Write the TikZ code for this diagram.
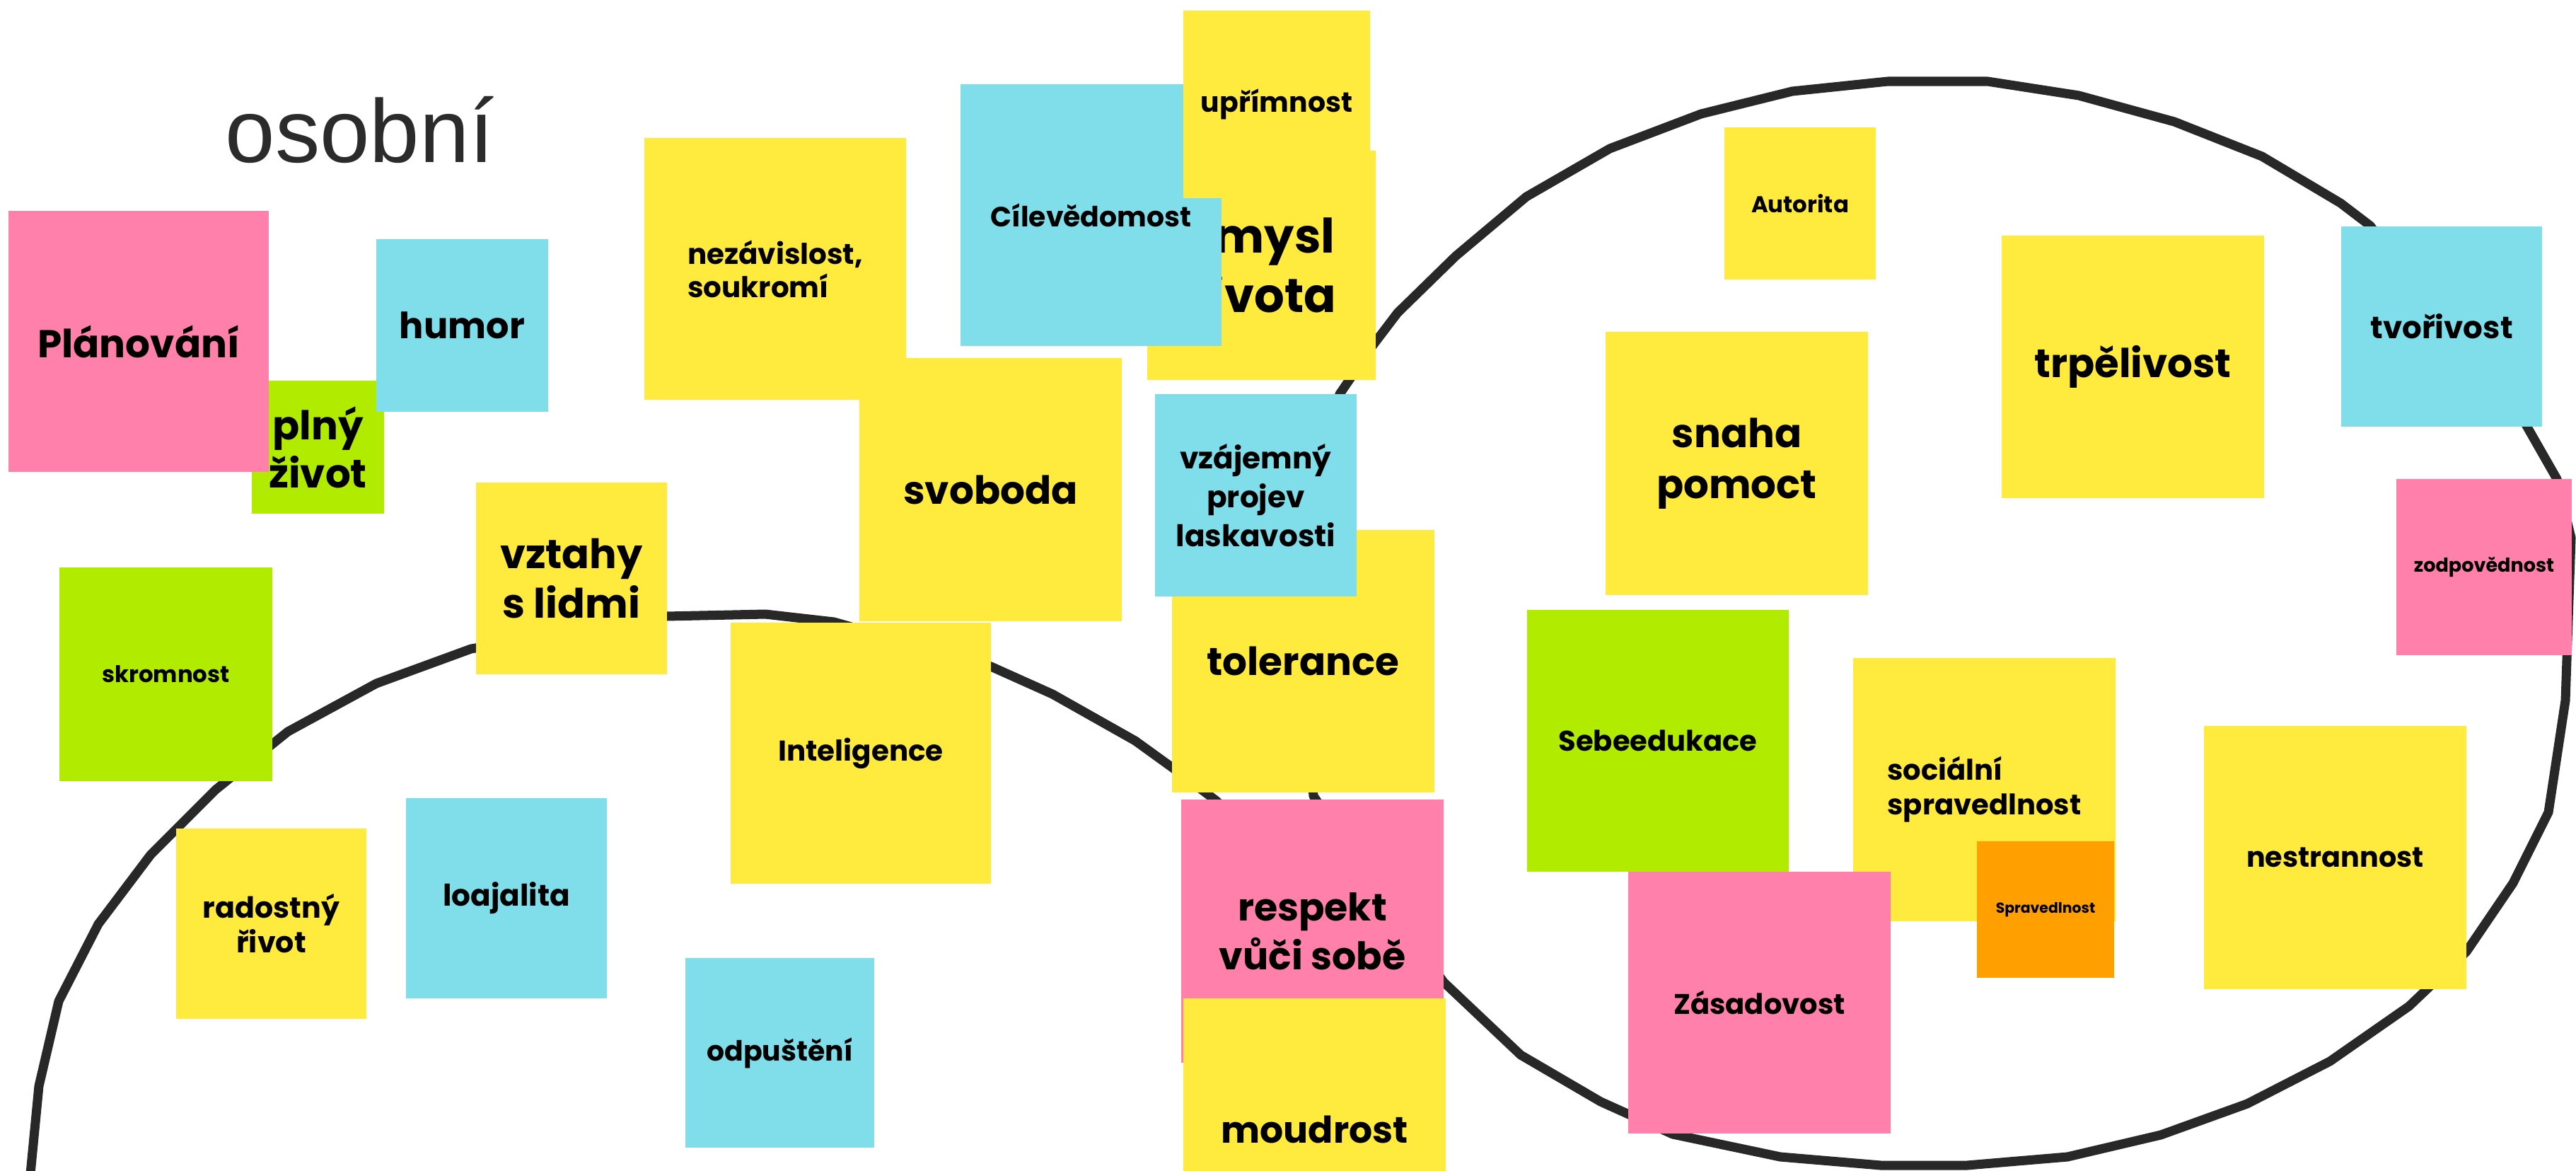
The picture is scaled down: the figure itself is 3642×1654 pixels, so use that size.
\documentclass[tikz,border=0pt]{standalone}
\usepackage{fontspec}
\setmainfont{Poppins}
\newfontfamily\titlefont{Liberation Sans}

\definecolor{noteyellow}{HTML}{FFEA3D}
\definecolor{notecyan}{HTML}{80DEEA}
\definecolor{notepink}{HTML}{FF80AB}
\definecolor{notegreen}{HTML}{B0EB00}
\definecolor{noteorange}{HTML}{FF9F00}
\definecolor{loopgray}{HTML}{282828}
\definecolor{titlegray}{HTML}{2B2B2B}

\newcommand{\nfs}[2]{\fontsize{#1}{#2}\selectfont\bfseries}

\tikzset{
  note/.style={inner sep=0pt, minimum size=#1, align=center},
  yel/.style={fill=noteyellow},
  cya/.style={fill=notecyan},
  pnk/.style={fill=notepink},
  grn/.style={fill=notegreen},
  org/.style={fill=noteorange},
  loop/.style={draw=loopgray, line width=3.7pt, line join=round, line cap=round}
}

\begin{document}
\begin{tikzpicture}[x=0.01cm, y=-0.01cm]
  \useasboundingbox (0,0) rectangle (3642,1654);
  \fill[white] (0,0) rectangle (3642,1654);
  \clip (0,0) rectangle (3642,1654);

  % the two hand drawn loops
  \draw[loop] (40,1690) -- (55,1535) -- (83,1415) -- (139,1306) -- (213,1208)
    -- (305,1116) -- (407,1034) -- (532,966) -- (666,917) -- (942,871)
    -- (1082,868) -- (1179,879) -- (1401,942) -- (1488,981) -- (1605,1047)
    -- (1659,1086) -- (1720,1132) -- (1800,1210) -- (1870,1320);
  \draw[loop] (1894,557) -- (1870,640) -- (1852,760) -- (1845,900) -- (1848,1020)
    -- (1857,1125) -- (2041,1388) -- (2150,1491) -- (2263,1557) -- (2365,1603)
    -- (2517,1635) -- (2659,1647) -- (2781,1647) -- (2923,1635) -- (3055,1604)
    -- (3177,1560) -- (3294,1500) -- (3406,1422) -- (3487,1345) -- (3553,1248)
    -- (3603,1148) -- (3627,990) -- (3635,760) -- (3615,677) -- (3571,600)
    -- (3351,319) -- (3309,287) -- (3198,221) -- (3074,172) -- (2939,135)
    -- (2810,115) -- (2669,115) -- (2534,129) -- (2405,161) -- (2276,210)
    -- (2158,278) -- (2058,362) -- (1976,442) -- (1941,488) -- cycle;

  \node[anchor=base west, inner sep=0pt, text=titlegray,
    font=\titlefont\fontsize{36}{43}\selectfont] (title) at (318,229) {osobní};

  % left group
  \node[note=1.87cm, grn, font=\nfs{16}{19.3}] (plny) at (449.5,632) {plný\\život};
  \node[note=3.68cm, pnk, font=\nfs{15.6}{19}] (plan) at (196,482.5) {Plánování};
  \node[note=2.43cm, cya, font=\nfs{14.5}{18}] (humor) at (653.5,460) {humor};
  \node[note=3.01cm, grn, font=\nfs{9.2}{12}] (skrom) at (234.5,953) {skromnost};
  \node[note=2.70cm, yel, font=\nfs{16.3}{19.9}] (vztahy) at (808,817.5) {vztahy\\s lidmi};
  \node[note=3.70cm, yel, font=\nfs{11.5}{13.4}, align=left] (nezav) at (1096,380) {nezávislost,\\soukromí};
  \node[note=3.71cm, yel, font=\nfs{15.6}{19}] (svoboda) at (1400.5,692) {svoboda};
  \node[note=3.68cm, yel, font=\nfs{11.5}{14}] (intel) at (1217,1064.5) {Inteligence};
  \node[note=2.69cm, yel, font=\nfs{11.7}{13.9}] (radost) at (383.5,1305.5) {radostný\\řivot};
  \node[note=2.83cm, cya, font=\nfs{12}{15}] (loaj) at (716,1269.5) {loajalita};
  \node[note=2.67cm, cya, font=\nfs{11.2}{14}] (odpust) at (1102.5,1488) {odpuštění};

  % middle group
  \node[note=3.23cm, yel, font=\nfs{19.1}{23.9}] (smysl) at (1783.5,375) {smysl\\života};
  \node[note=3.69cm, cya, font=\nfs{11.2}{14}] (cile) at (1542.5,304) {Cílevědomost};
  \node[note=2.64cm, yel, font=\nfs{11.2}{14}] (uprim) at (1805,147.5) {upřímnost};
  \node[note=3.71cm, yel, font=\nfs{15.6}{19}] (toler) at (1842.5,934.5) {tolerance};
  \node[note=2.85cm, cya, font=\nfs{12}{15.6}] (vzajem) at (1775.5,700) {vzájemný\\projev\\laskavosti};
  \node[note=3.71cm, pnk, font=\nfs{15.3}{19.6}] (respekt) at (1855.5,1316) {respekt\\vůči sobě};
  \node[note=3.71cm, yel, font=\nfs{14.8}{18}] (moudr) at (1858.5,1596.5) {moudrost};

  % right group
  \node[note=2.14cm, yel, font=\nfs{9.2}{12}] (autor) at (2545,287.5) {Autorita};
  \node[note=3.71cm, yel, font=\nfs{16}{20.5}] (snaha) at (2455.5,655) {snaha\\pomoct};
  \node[note=3.71cm, yel, font=\nfs{16}{19}] (trpel) at (3015.5,518.5) {trpělivost};
  \node[note=2.83cm, cya, font=\nfs{12.4}{15}] (tvori) at (3452,461.5) {tvořivost};
  \node[note=2.48cm, pnk, font=\nfs{7.7}{10}] (zodpov) at (3512,801.5) {zodpovědnost};
  \node[note=3.70cm, grn, font=\nfs{11.4}{14}] (sebe) at (2344,1047) {Sebeedukace};
  \node[note=3.71cm, yel, font=\nfs{11.4}{13.9}, align=left] (social) at (2805.5,1116) {sociální\\spravedlnost};
  \node[note=1.93cm, org, font=\nfs{5.8}{8}] (sprav) at (2892,1285.5) {Spravedlnost};
  \node[note=3.70cm, pnk, font=\nfs{11.4}{14}] (zasad) at (2487.5,1417) {Zásadovost};
  \node[note=3.71cm, yel, font=\nfs{11.3}{14}] (nestran) at (3301.5,1212) {nestrannost};
\end{tikzpicture}
\end{document}
